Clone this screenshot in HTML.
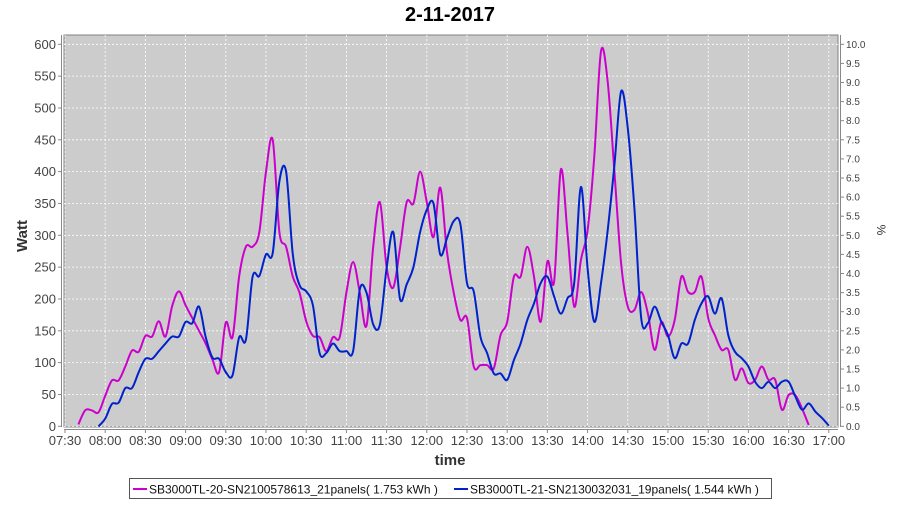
<!DOCTYPE html>
<html><head><meta charset="utf-8"><style>
body{margin:0;background:#fff;font-family:"Liberation Sans",sans-serif}
svg text{font-family:"Liberation Sans",sans-serif}
</style></head><body>
<svg id="chart" width="900" height="500">
<text x="450" y="21" text-anchor="middle" font-size="20" font-weight="bold">2-11-2017</text>
<rect x="64" y="35" width="774" height="392" fill="#cccccc" stroke="#808080"/>
<g id="grid"></g><g id="axes"></g>
<defs><clipPath id="clip"><rect x="64" y="35" width="774" height="392"/></clipPath></defs>
<g id="series" clip-path="url(#clip)"></g>
<text transform="translate(27,236) rotate(-90)" text-anchor="middle" font-size="15" font-weight="bold" fill="#333">Watt</text>
<text transform="translate(877,230) rotate(90)" text-anchor="middle" font-size="12" fill="#333">%</text>
<text x="450" y="465" text-anchor="middle" font-size="15" font-weight="bold" fill="#333">time</text>
<g>
<rect x="129.5" y="478.5" width="642" height="20" fill="#fff" stroke="#555"/>
<line x1="133" y1="489" x2="147" y2="489" stroke="#cc00cc" stroke-width="2"/>
<text x="149" y="493.5" font-size="12" fill="#111">SB3000TL-20-SN2100578613_21panels( 1.753 kWh )</text>
<line x1="454" y1="489" x2="468" y2="489" stroke="#0022cc" stroke-width="2"/>
<text x="470" y="493.5" font-size="12" fill="#111">SB3000TL-21-SN2130032031_19panels( 1.544 kWh )</text>
</g>
</svg>
<script>
const magentaStart = 2;
const magentaValues = [3,25,25,22,48,72,72,94,119,117,142,141,165,141,189,212,190,170,150,130,105,85,163,140,236,282,282,305,400,450,305,282,235,210,165,142,140,118,140,140,210,258,210,158,282,352,250,218,280,352,350,400,352,297,375,275,211,167,170,94,96,96,91,143,164,235,235,282,235,164,259,227,403,303,188,261,308,424,589,541,400,256,188,183,211,177,120,164,141,167,235,211,211,235,170,143,120,120,73,91,68,73,94,73,73,26,49,49,28,2];
const blueStart = 5;
const blueValues = [0,12,35,37,60,60,85,106,106,118,130,141,141,164,162,188,140,108,106,85,80,140,136,235,236,270,272,385,400,270,222,212,190,115,115,130,118,118,118,215,210,160,160,248,305,200,223,250,305,340,350,270,295,322,318,225,212,141,115,83,83,73,104,130,167,193,225,235,204,177,201,225,376,248,164,225,308,410,526,468,340,170,162,188,164,143,107,130,130,167,193,204,177,201,143,117,107,94,70,60,70,60,70,70,47,26,36,23,13,1];
const yTicks = [0,50,100,150,200,250,300,350,400,450,500,550,600];
const y2Ticks = ["0.0","0.5","1.0","1.5","2.0","2.5","3.0","3.5","4.0","4.5","5.0","5.5","6.0","6.5","7.0","7.5","8.0","8.5","9.0","9.5","10.0"];
const xTicks = ["07:30","08:00","08:30","09:00","09:30","10:00","10:30","11:00","11:30","12:00","12:30","13:00","13:30","14:00","14:30","15:00","15:30","16:00","16:30","17:00"];
const NS="http://www.w3.org/2000/svg";
function xs(min){return 65+min*40.2/30;}
function ys(w){return 426.3-w*(382/600);}
function mk(tag,attrs,parent){const e=document.createElementNS(NS,tag);for(const k in attrs)e.setAttribute(k,attrs[k]);parent.appendChild(e);return e;}
const grid=document.getElementById('grid'),axes=document.getElementById('axes'),series=document.getElementById('series');
yTicks.forEach(v=>{const y=ys(v);
 const g=mk('line',{x1:64,x2:838,y1:y,y2:y,stroke:'#fff','stroke-dasharray':'2,2','stroke-width':0.8},grid);
 
 mk('line',{x1:58,x2:62,y1:y,y2:y,stroke:'#888'},axes);
 const t=mk('text',{x:56,y:y+4.5,'text-anchor':'end','font-size':13,fill:'#444'},axes);t.textContent=v;
 });
mk('line',{x1:61.5,x2:61.5,y1:35,y2:427,stroke:'#888'},axes);
y2Ticks.forEach((s,i)=>{const y=ys(i*30);
 mk('line',{x1:840,x2:844,y1:y,y2:y,stroke:'#888'},axes);
 const t=mk('text',{x:846,y:y+3.5,'font-size':10,fill:'#444'},axes);t.textContent=s;
 });
mk('line',{x1:840.5,x2:840.5,y1:35,y2:427,stroke:'#888'},axes);
xTicks.forEach((s,i)=>{const x=xs(i*30);
 const g=mk('line',{x1:x,x2:x,y1:35,y2:427,stroke:'#fff','stroke-dasharray':'2,2','stroke-width':0.8},grid);
 
 mk('line',{x1:x,x2:x,y1:429,y2:433,stroke:'#888'},axes);
 const t=mk('text',{x:x,y:445,'text-anchor':'middle','font-size':13,fill:'#444'},axes);t.textContent=s;
 });
mk('line',{x1:64,x2:838,y1:429.5,y2:429.5,stroke:'#888'},axes);
function path(start,vals){const p=vals.map((v,i)=>[xs((start+i)*5),ys(v)]);
 let d='M'+p[0][0]+','+p[0][1];
 for(let i=0;i<p.length-1;i++){const p0=p[i-1]||p[i],p1=p[i],p2=p[i+1],p3=p[i+2]||p2;
  const c1=[p1[0]+(p2[0]-p0[0])/6,p1[1]+(p2[1]-p0[1])/6],c2=[p2[0]-(p3[0]-p1[0])/6,p2[1]-(p3[1]-p1[1])/6];
  d+=' C'+c1+' '+c2+' '+p2;}
 return d;}
const m=mk('path',{d:path(magentaStart,magentaValues),fill:'none',stroke:'#cc00cc','stroke-width':2},series);


const b=mk('path',{d:path(blueStart,blueValues),fill:'none',stroke:'#0022cc','stroke-width':2},series);


</script>
</body></html>
